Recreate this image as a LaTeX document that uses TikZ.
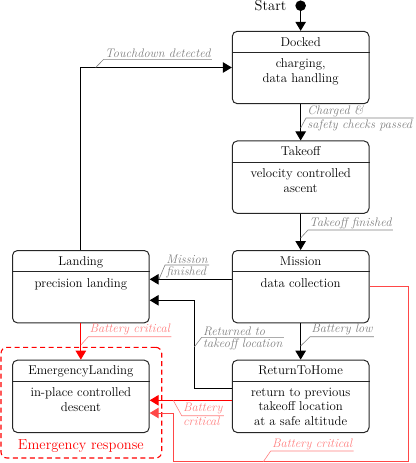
\documentclass[tikz,border=0pt]{standalone}
\usetikzlibrary{arrows.meta,shapes.multipart,calc}
\newcommand\mkstate[5]{%
  \node[statebox] (#1) at (#2,#3) {};
  \node[anchor=base, inner sep=0pt] (#1-title) at ($(#1.north)+(0,15.3)$) {#4};
  \draw[divider] ($(#1.north west)+(0,21.7)$) -- ($(#1.north east)+(0,21.7)$);
  \node[anchor=north, inner sep=0pt, align=center] (#1-body) at ($(#1.north)+(0,28)$) {#5};
}
\newcommand\elabel[6]{%
  \coordinate (#2-from) at (#3);
  \node[lblfont, text=#1, rectangle split, rectangle split parts=2,
        rectangle split part align={left}, anchor=text split west,
        inner xsep=1.2pt, inner ysep=1.1pt] (#2) at (#4) {#5\nodepart{two}#6};
  \draw[#1, line width=0.6pt] (#2-from) -- (#2.text split west) -- (#2.text split east);
}
\begin{document}
\begin{tikzpicture}[x=1pt,y=-1pt,
  font=\fontsize{12.8}{14.5}\selectfont,
  statebox/.style={draw=black!85, line width=1pt, rounded corners=5pt,
    minimum width=136.7pt, minimum height=72.4pt, inner sep=0pt},
  divider/.style={draw=black!85, line width=0.8pt},
  conn/.style={line width=1pt, -{Triangle[width=10.5pt,length=9pt]}},
  redconn/.style={conn, red},
  ltredconn/.style={conn, red!72},
  lblfont/.style={font=\fontsize{12.4}{13.5}\selectfont\itshape},
  bigfont/.style={font=\fontsize{14.5}{16}\selectfont}
]
\useasboundingbox (0,0) rectangle (415,463);

% emergency group
\node[draw=red, line width=1.1pt, dash pattern=on 5pt off 3.5pt, rounded corners=6pt,
      minimum width=160.7pt, minimum height=110.7pt, inner sep=0pt] (emgroup) at (81.35,402.65) {};
\node[bigfont, text=red, inner sep=0pt] (emlabel) at (80.85,446.2) {Emergency response};

% start
\node[circle, fill=black, minimum size=10.6pt, inner sep=0pt] (start) at (300.65,5.7) {};
\node[bigfont, anchor=east, inner sep=0pt] (startlabel) at (286.5,5.2) {Start};

% states
\mkstate{docked}{300.65}{67.5}{Docked}{charging,\\data handling}
\mkstate{takeoff}{300.65}{177.15}{Takeoff}{velocity controlled\\ascent}
\mkstate{mission}{300.65}{286.7}{Mission}{data collection}
\mkstate{rth}{300.65}{396.35}{ReturnToHome}{return to previous\\takeoff location\\at a safe altitude}
\mkstate{landing}{80.85}{286.7}{Landing}{precision landing}
\mkstate{emerg}{80.85}{396.35}{EmergencyLanding}{in-place controlled\\descent}

% connectors
\draw[conn] (start) -- (docked);
\draw[conn] (docked) -- (takeoff);
\draw[conn] (takeoff) -- (mission);
\draw[conn] (mission) -- (rth);
\draw[conn] ($(mission.west)+(0,-7.4)$) -- ($(landing.east)+(0,-7.4)$);
\coordinate (c-rtl) at (194.3,300.3);
\draw[conn] ($(rth.west)+(0,-8.05)$) -| (c-rtl) -- ($(landing.east)+(0,13.6)$);
\draw[conn] (landing.north) |- (docked.west);
\draw[redconn] (landing) -- (emerg);
\draw[redconn] ($(rth.west)+(0,3.95)$) -- ($(emerg.east)+(0,3.95)$);
\coordinate (c-m1) at (408.7,461.7);
\coordinate (c-m2) at (173,461.7);
\draw[ltredconn] (mission.east) -| (c-m1) -- (c-m2) |- ($(emerg.east)+(0,16.65)$);

% labels
\elabel{black!50}{lt}{95.7,67.5}{103.7,59.3}{Touchdown detected}{}
\elabel{black!50}{lc}{300.65,128}{306,118}{Charged \&}{safety checks passed}
\elabel{black!50}{ltf}{300.65,238}{308,230}{Takeoff finished}{}
\elabel{black!50}{lm}{159,279.3}{165,265}{Mission}{finished}
\elabel{black!50}{lbl}{300.65,346}{310,336.7}{Battery low}{}
\elabel{black!50}{lr}{194.3,347}{201.7,337.3}{Returned to}{takeoff location}
\elabel{red!50}{lbc1}{80.85,345}{88.3,336.7}{Battery critical}{}
\elabel{red!50}{lbc2}{173.3,400.4}{181.7,415.7}{Battery}{critical}
\elabel{red!50}{lbc3}{263.3,461.7}{270.7,451}{Battery critical}{}
\end{tikzpicture}
\end{document}
